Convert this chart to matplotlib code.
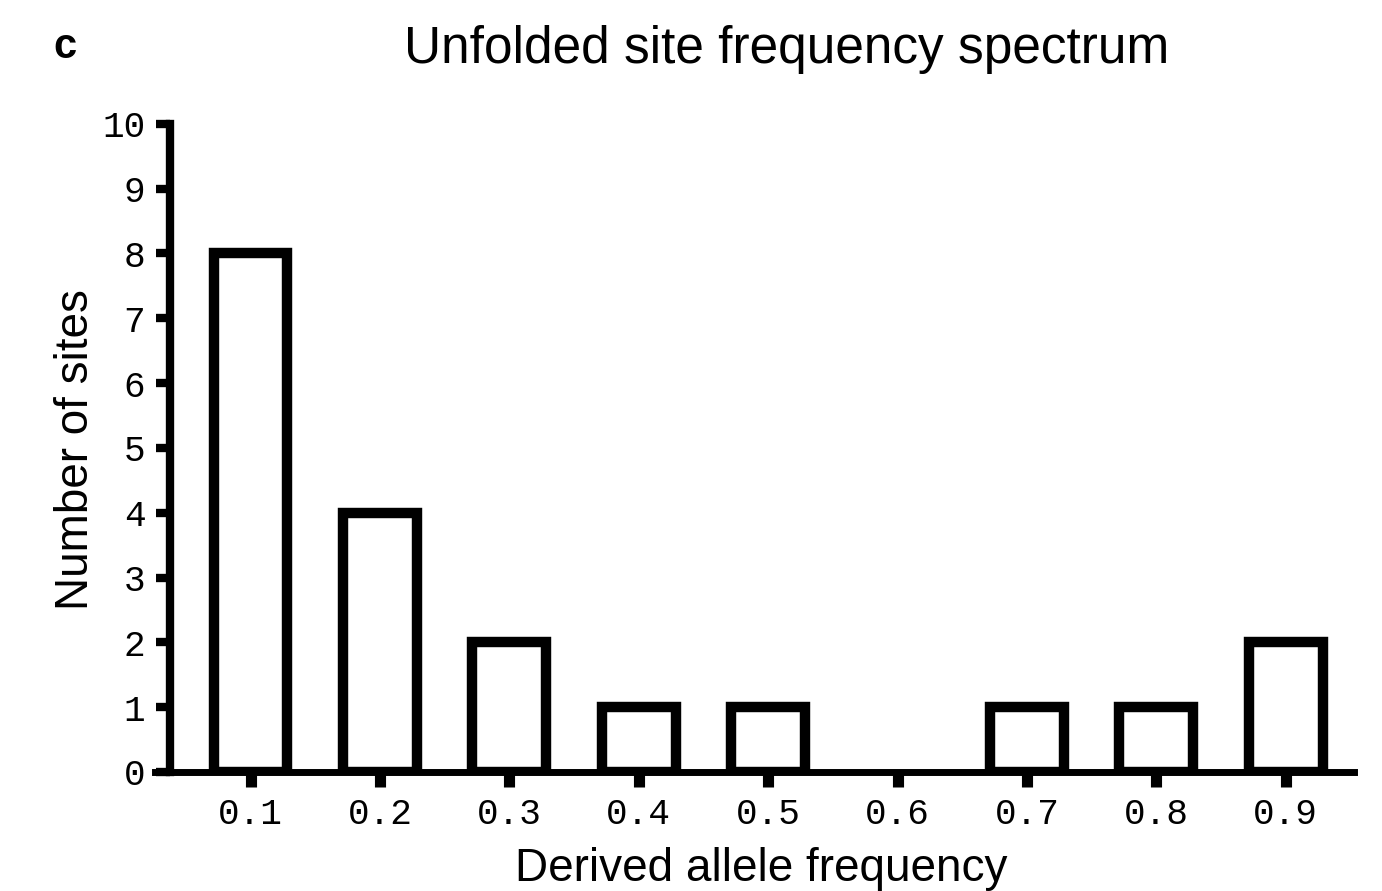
import numpy as np
import matplotlib.pyplot as plt

freq_labels = ['0.1', '0.2', '0.3', '0.4', '0.5', '0.6', '0.7', '0.8', '0.9']
n_sites = [8, 4, 2, 1, 1, 0, 1, 1, 2]
y_ticks = [0, 1, 2, 3, 4, 5, 6, 7, 8, 9, 10]

fig = plt.figure(figsize=(13.82, 8.91), dpi=100)
ax = fig.add_axes([0.112, 0.1336, 0.868, 0.7274])

x = np.arange(len(freq_labels))
# empty bins get no outline, so the axis line stays even there
edges = ['black' if v > 0 else 'none' for v in n_sites]
ax.bar(x, n_sites, width=0.57, facecolor='white', edgecolor=edges, linewidth=7.5, zorder=2)

ax.set_xlim(-0.74, 8.53)
ax.set_ylim(0, 10)
ax.spines['top'].set_visible(False)
ax.spines['right'].set_visible(False)
ax.spines['left'].set_position(('data', -0.62))
ax.spines['left'].set_linewidth(6)
ax.spines['bottom'].set_linewidth(5)
ax.spines['left'].set_capstyle('projecting')

ax.set_xticks(x)
ax.set_xticklabels(freq_labels, family='Liberation Mono', fontsize=26)
ax.set_yticks(y_ticks)
ax.set_yticklabels([str(v) for v in y_ticks], family='Liberation Mono', fontsize=26)
ax.tick_params(axis='x', length=11, width=8, pad=7)
ax.tick_params(axis='y', length=10, width=6, pad=8)

fig.text(0.5695, 0.944, 'Unfolded site frequency spectrum', ha='center', va='center',
         family='Liberation Sans', fontsize=37)
fig.text(0.551, 0.025, 'Derived allele frequency', ha='center', va='center',
         family='Liberation Sans', fontsize=33)
fig.text(0.055, 0.495, 'Number of sites', ha='center', va='center', rotation=90,
         family='Liberation Sans', fontsize=33)
fig.text(0.047, 0.947, 'c', ha='center', va='center', family='Liberation Sans',
         fontsize=30, fontweight='bold')

fig.savefig('out.png', dpi=100)
